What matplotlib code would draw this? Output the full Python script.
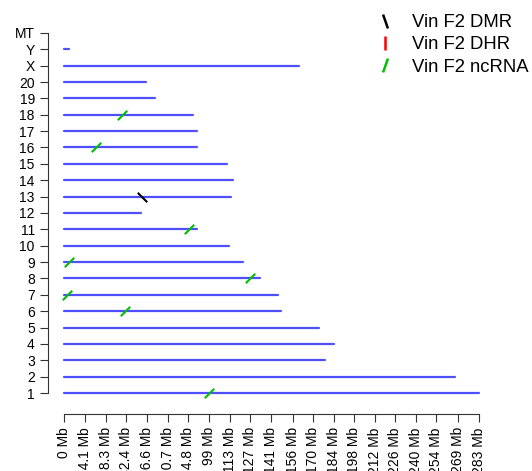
import numpy as np
import matplotlib
matplotlib.use("Agg")
import matplotlib.pyplot as plt
from matplotlib.path import Path
from matplotlib.lines import Line2D

plt.rcParams['font.family'] = ['Liberation Sans', 'DejaVu Sans']

# rat chromosomes, lengths in Mb
chroms = ['1', '2', '3', '4', '5', '6', '7', '8', '9', '10', '11', '12',
          '13', '14', '15', '16', '17', '18', '19', '20', 'X', 'Y', 'MT']
chrom_len = [282.76, 266.44, 177.70, 184.23, 173.71, 147.99, 145.73, 133.31,
             122.10, 112.63, 90.46, 52.72, 114.03, 115.49, 111.25, 90.67,
             90.84, 88.20, 62.28, 56.21, 159.97, 3.31, 0.016]

# features
dmr_chr = ['13']
dmr_pos = [53.4]
dhr_chr = []
dhr_pos = []
ncrna_chr = ['18', '16', '11', '9', '8', '7', '6', '1']
ncrna_pos = [39.3, 21.8, 85.5, 3.6, 126.8, 1.8, 41.6, 99.1]

tick_vals = [0, 14.1, 28.3, 42.4, 56.6, 70.7, 84.8, 99, 113, 127, 141, 156,
             170, 184, 198, 212, 226, 240, 254, 269, 283]
tick_labels = [f"{v:g} Mb" for v in tick_vals]

W, H = 532, 471
fig = plt.figure(figsize=(W / 100, H / 100), dpi=100)
# axes placed in pixel terms: left spine at x=48, bottom spine at y=414
ax = fig.add_axes([48 / W, (H - 414) / H, (500 - 48) / W, (414 - 20) / H])

ypos = {c: i + 1 for i, c in enumerate(chroms)}

for c, L in zip(chroms, chrom_len):
    ax.plot([0, L], [ypos[c], ypos[c]], color='#4f4fff', lw=1.6,
            solid_capstyle='round', zorder=1)

slash = Path([(-1, -1), (1, 1)], [Path.MOVETO, Path.LINETO])
bslash = Path([(-1, 1), (1, -1)], [Path.MOVETO, Path.LINETO])

ax.plot(ncrna_pos, [ypos[c] for c in ncrna_chr], ls='none', marker=slash,
        ms=6.8, mew=1.5, mec='#00c000', mfc='none', zorder=3)
ax.plot(dmr_pos, [ypos[c] for c in dmr_chr], ls='none', marker=bslash,
        ms=6.8, mew=1.5, mec='black', mfc='none', zorder=3)
if dhr_pos:
    ax.plot(dhr_pos, [ypos[c] for c in dhr_chr], ls='none', marker='|',
            ms=8, mew=1.5, color='red', zorder=3)

ax.set_xlim(-10.91, 297.3)
ax.set_ylim(-0.283, 23.79)

for s in ['top', 'right']:
    ax.spines[s].set_visible(False)
ax.spines['left'].set_bounds(1, 23)
ax.spines['bottom'].set_bounds(0, 283)
ax.spines['left'].set_color('#333333')
ax.spines['bottom'].set_color('#333333')

ax.set_yticks(range(1, len(chroms) + 1))
ax.set_yticklabels(chroms, fontsize=10)
ax.set_xticks(tick_vals)
ax.set_xticklabels(tick_labels, rotation=90, fontsize=10)
ax.tick_params(axis='both', length=5.5, color='#333333', pad=4)

# legend with glyph-like steep strokes
lg_bs = Path([(-0.35, 1), (0.35, -1)], [Path.MOVETO, Path.LINETO])
lg_s = Path([(-0.35, -1), (0.35, 1)], [Path.MOVETO, Path.LINETO])
lg_v = Path([(0, -1), (0, 1)], [Path.MOVETO, Path.LINETO])
handles = [
    Line2D([], [], ls='none', marker=lg_bs, ms=10, mew=1.8, mec='black'),
    Line2D([], [], ls='none', marker=lg_v, ms=10, mew=1.8, mec='red'),
    Line2D([], [], ls='none', marker=lg_s, ms=10, mew=1.8, mec='#00c000'),
]
fig.legend(handles, ['Vin F2 DMR', 'Vin F2 DHR', 'Vin F2 ncRNA'],
           loc='upper left', bbox_to_anchor=(367 / W, 1 - 5 / H),
           frameon=False, fontsize=13.3, handlelength=1.0,
           handletextpad=0.95, labelspacing=0.28, borderpad=0)

fig.savefig('out.png', dpi=100)
